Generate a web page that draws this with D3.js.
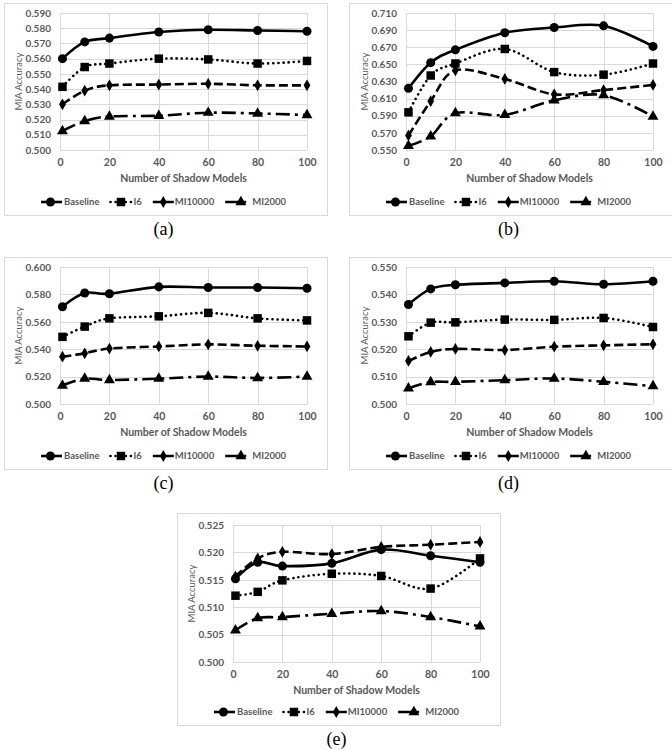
<!DOCTYPE html>
<html>
<head>
<meta charset="utf-8">
<script src="https://cdn.jsdelivr.net/npm/d3@7"></script>
<style>
  body { margin: 0; background: #fff; }
  svg { display: block; }
</style>
</head>
<body>
<div id="chart"></div>
<script>
// x positions (number of shadow models) and series names
const shadowModels = [1, 10, 20, 40, 60, 80, 100];
const seriesNames = ['Baseline', 'I6', 'MI10000', 'MI2000'];
const xTicks = [0, 20, 40, 60, 80, 100];

// values per panel, one row per series (Baseline, I6, MI10000, MI2000)
const panelA = [
  [0.560, 0.571, 0.5735, 0.5775, 0.579, 0.5785, 0.578],
  [0.5415, 0.5545, 0.5568, 0.560, 0.5595, 0.5568, 0.5585],
  [0.530, 0.539, 0.5425, 0.543, 0.5435, 0.5425, 0.5425],
  [0.5125, 0.519, 0.522, 0.5225, 0.5245, 0.524, 0.523]
];
const panelB = [
  [0.622, 0.652, 0.667, 0.687, 0.693, 0.695, 0.671],
  [0.594, 0.637, 0.651, 0.668, 0.641, 0.638, 0.651],
  [0.567, 0.607, 0.643, 0.633, 0.615, 0.620, 0.626],
  [0.555, 0.566, 0.593, 0.591, 0.608, 0.614, 0.589]
];
const panelC = [
  [0.571, 0.581, 0.5805, 0.5855, 0.585, 0.585, 0.5845],
  [0.549, 0.5565, 0.5625, 0.564, 0.5665, 0.5625, 0.561],
  [0.5345, 0.537, 0.5405, 0.542, 0.5435, 0.5425, 0.542],
  [0.5135, 0.5185, 0.5175, 0.5185, 0.520, 0.519, 0.520]
];
const panelD = [
  [0.5363, 0.542, 0.5435, 0.5442, 0.5448, 0.5437, 0.5448],
  [0.5247, 0.5297, 0.5298, 0.5308, 0.5307, 0.5314, 0.5281],
  [0.5157, 0.519, 0.5201, 0.5197, 0.5209, 0.5214, 0.5218],
  [0.5057, 0.508, 0.5081, 0.5087, 0.5093, 0.5081, 0.5065]
];
const panelE = [
  [0.5152, 0.5182, 0.5175, 0.518, 0.5205, 0.5194, 0.5182],
  [0.5121, 0.5128, 0.5149, 0.5161, 0.5157, 0.5134, 0.5189],
  [0.5156, 0.5189, 0.5201, 0.5197, 0.5210, 0.5214, 0.5219],
  [0.5058, 0.5080, 0.5082, 0.5088, 0.5093, 0.5082, 0.5065]
];

// y axis ranges and tick steps per panel
const yDomains = [[0.50, 0.59], [0.55, 0.71], [0.50, 0.60], [0.50, 0.55], [0.500, 0.525]];
const yTickSteps = [0.01, 0.02, 0.02, 0.01, 0.005];
const captions = ['(a)', '(b)', '(c)', '(d)', '(e)'];

const width = 672;
const height = 750;
const textColor = '#595959';
const gridColor = '#d9d9d9';
const sansFont = 'Lato, "Open Sans", sans-serif';

// frame and plot positions for each panel
const layout = [
  { fx: 4, fy: 3, px: 60, py: 13 },
  { fx: 349, fy: 3, px: 406, py: 13 },
  { fx: 4, fy: 257, px: 60, py: 267 },
  { fx: 349, fy: 257, px: 406, py: 267 },
  { fx: 177, fy: 513, px: 233, py: 525 }
];
const frameW = 323;
const frameH = 212;
const plotW = 247;
const plotH = 137;

// line style per series (markerPos = where the marker sits on the legend sample)
const lineStyles = [
  { dash: null, cap: 'butt', marker: 'circle', markerPos: 0.45, textGap: 2 },
  { dash: '0.1 5', cap: 'round', marker: 'square', markerPos: 0.5, textGap: 2 },
  { dash: '9 4', cap: 'butt', marker: 'diamond', markerPos: 0.5, textGap: 1 },
  { dash: '14 5 3 5', cap: 'butt', marker: 'triangle', markerPos: 0.75, textGap: 6 }
];

const symbols = {
  circle: d3.symbol().type(d3.symbolCircle).size(64),
  square: d3.symbol().type(d3.symbolSquare).size(72),
  diamond: d3.symbol().type(d3.symbolDiamond).size(40),
  triangle: d3.symbol().type(d3.symbolTriangle).size(52)
};

const svg = d3.select('#chart')
  .append('svg')
  .attr('width', width)
  .attr('height', height);

svg.append('rect')
  .attr('width', width)
  .attr('height', height)
  .attr('fill', '#fff');

const panelData = [panelA, panelB, panelC, panelD, panelE];

panelData.forEach((rows, i) => drawPanel(rows, i));

function drawPanel(rows, i) {
  const pos = layout[i];
  const g = svg.append('g').attr('class', 'panel');

  g.append('rect')
    .attr('x', pos.fx + 0.5)
    .attr('y', pos.fy + 0.5)
    .attr('width', frameW)
    .attr('height', frameH)
    .attr('fill', '#fff')
    .attr('stroke', gridColor);

  const x = d3.scaleLinear().domain([0, 100]).range([pos.px, pos.px + plotW]);
  const y = d3.scaleLinear().domain(yDomains[i]).range([pos.py + plotH, pos.py]);

  const [y0, y1] = yDomains[i];
  const nTicks = Math.round((y1 - y0) / yTickSteps[i]);
  const yTicks = d3.range(nTicks + 1).map(k => y0 + k * yTickSteps[i]);

  // gridlines
  g.append('g')
    .selectAll('line')
    .data(yTicks)
    .join('line')
    .attr('x1', pos.px)
    .attr('x2', pos.px + plotW)
    .attr('y1', d => Math.round(y(d)) + 0.5)
    .attr('y2', d => Math.round(y(d)) + 0.5)
    .attr('stroke', gridColor);

  g.append('g')
    .selectAll('line')
    .data(xTicks)
    .join('line')
    .attr('x1', d => Math.round(x(d)) + 0.5)
    .attr('x2', d => Math.round(x(d)) + 0.5)
    .attr('y1', pos.py)
    .attr('y2', pos.py + plotH)
    .attr('stroke', gridColor);

  // axes via d3 axis generators, domain and tick lines hidden
  const yAxis = d3.axisLeft(y)
    .tickValues(yTicks)
    .tickFormat(d3.format('.3f'))
    .tickSize(0)
    .tickPadding(9);

  g.append('g')
    .attr('transform', `translate(${pos.px},0)`)
    .call(yAxis)
    .call(a => a.select('.domain').remove())
    .call(a => a.selectAll('text')
      .attr('fill', textColor)
      .style('font-family', sansFont)
      .style('font-size', '10px')
      .style('font-weight', 700));

  const xAxis = d3.axisBottom(x)
    .tickValues(xTicks)
    .tickSize(0)
    .tickPadding(9);

  g.append('g')
    .attr('transform', `translate(0,${pos.py + plotH})`)
    .call(xAxis)
    .call(a => a.select('.domain').remove())
    .call(a => a.selectAll('text')
      .attr('fill', textColor)
      .style('font-family', sansFont)
      .style('font-size', '10.5px')
      .style('font-weight', 700));

  // axis titles
  g.append('text')
    .attr('transform', `translate(${pos.px - 41},${pos.py + plotH / 2}) rotate(-90)`)
    .attr('text-anchor', 'middle')
    .attr('dy', '0.35em')
    .attr('fill', textColor)
    .style('font-family', sansFont)
    .style('font-size', '9.5px')
    .text('MIA Accuracy');

  g.append('text')
    .attr('x', pos.px + plotW / 2)
    .attr('y', pos.py + plotH + 28)
    .attr('text-anchor', 'middle')
    .attr('dy', '0.35em')
    .attr('fill', textColor)
    .style('font-family', sansFont)
    .style('font-size', '10.5px')
    .style('font-weight', 700)
    .text('Number of Shadow Models');

  // series lines and markers
  const line = d3.line()
    .x((d, k) => x(shadowModels[k]))
    .y(d => y(d))
    .curve(d3.curveCardinal.tension(0));

  rows.forEach((vals, s) => {
    const st = lineStyles[s];
    g.append('path')
      .datum(vals)
      .attr('d', line)
      .attr('fill', 'none')
      .attr('stroke', '#000')
      .attr('stroke-width', 2.6)
      .attr('stroke-linecap', st.cap)
      .attr('stroke-dasharray', st.dash);

    g.append('g')
      .selectAll('path')
      .data(vals)
      .join('path')
      .attr('transform', (d, k) => `translate(${x(shadowModels[k])},${y(d)})`)
      .attr('d', symbols[st.marker]())
      .attr('fill', '#000');
  });

  // legend
  const legendY = pos.fy + 199;
  const legend = g.append('g');
  const sampleW = 21;
  const itemGap = 11;
  let cursor = 0;
  seriesNames.forEach((name, s) => {
    const st = lineStyles[s];
    const item = legend.append('g').attr('transform', `translate(${cursor},0)`);
    item.append('line')
      .attr('x1', 0)
      .attr('x2', sampleW)
      .attr('y1', 0)
      .attr('y2', 0)
      .attr('stroke', '#000')
      .attr('stroke-width', 2.6)
      .attr('stroke-linecap', st.cap)
      .attr('stroke-dasharray', st.dash);
    item.append('path')
      .attr('transform', `translate(${sampleW * st.markerPos},0)`)
      .attr('d', symbols[st.marker]())
      .attr('fill', '#000');
    const label = item.append('text')
      .attr('x', sampleW + st.textGap)
      .attr('dy', '0.35em')
      .attr('fill', textColor)
      .style('font-family', sansFont)
      .style('font-size', '9.5px')
      .style('font-weight', 700)
      .text(name);
    cursor += sampleW + st.textGap + label.node().getComputedTextLength() + itemGap;
  });
  const legendW = cursor - itemGap;
  legend.attr('transform', `translate(${pos.fx + frameW / 2 - 2 - legendW / 2},${legendY})`);

  // caption under the frame
  g.append('text')
    .attr('x', pos.fx + frameW / 2 - 2)
    .attr('y', pos.fy + 226)
    .attr('text-anchor', 'middle')
    .attr('dy', '0.35em')
    .attr('fill', '#000')
    .style('font-family', '"Liberation Serif", "DejaVu Serif", serif')
    .style('font-size', '18px')
    .text(captions[i]);
}
</script>
</body>
</html>
